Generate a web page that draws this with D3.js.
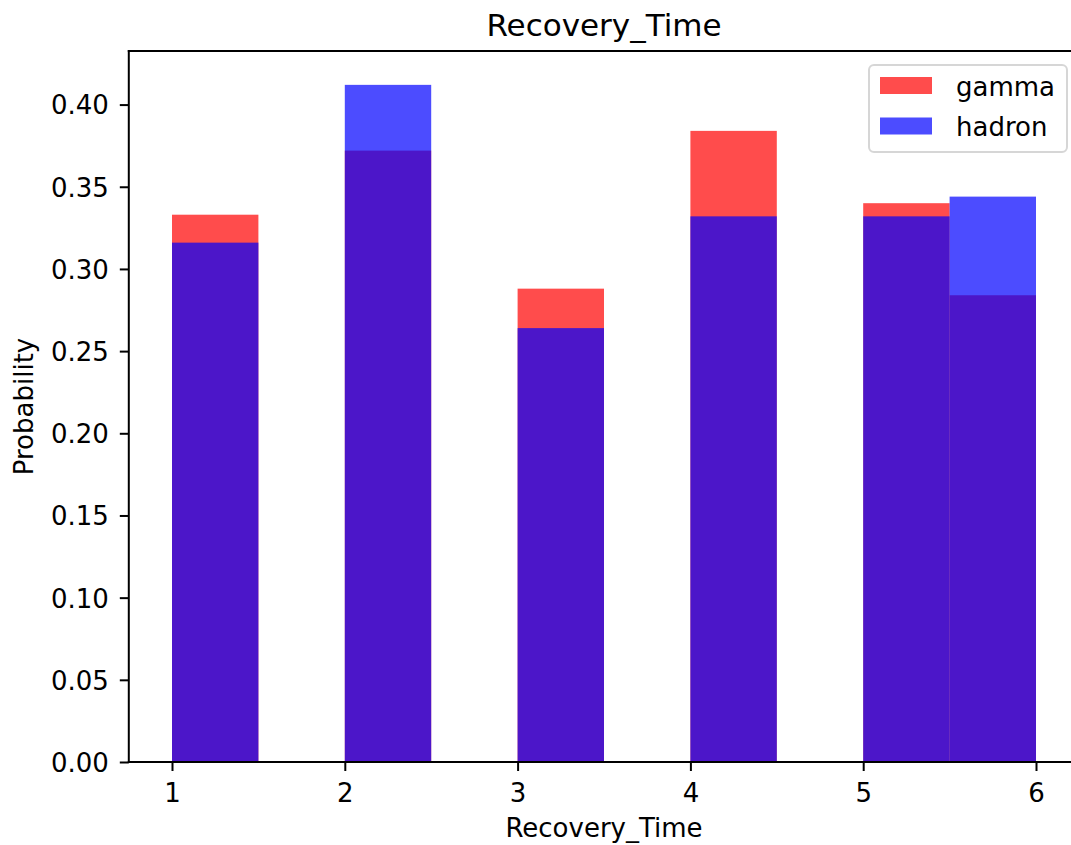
<!DOCTYPE html>
<html>
<head>
<meta charset="utf-8">
<script src="https://cdn.jsdelivr.net/npm/d3@7"></script>
<style>
  html, body { margin: 0; padding: 0; background: #fff; }
  svg { display: block; font-family: "DejaVu Sans", sans-serif; }
</style>
</head>
<body>
<svg id="chart" width="1071" height="845"></svg>
<script>
// Histogram bin edges (10 bins of width 0.5 from 1 to 6)
const binEdges = [1, 1.5, 2, 2.5, 3, 3.5, 4, 4.5, 5, 5.5, 6];
// Normalised bin heights for each class
const gammaDensity  = [0.333, 0, 0.372, 0, 0.288, 0, 0.384, 0, 0.340, 0.284];
const hadronDensity = [0.316, 0, 0.412, 0, 0.264, 0, 0.332, 0, 0.332, 0.344];
const seriesNames = ["gamma", "hadron"];
const seriesColors = ["red", "blue"];
const xTicks = [1, 2, 3, 4, 5, 6];
const yTicks = [0, 0.05, 0.10, 0.15, 0.20, 0.25, 0.30, 0.35, 0.40];
const chartTitle = "Recovery_Time";
const xLabel = "Recovery_Time";
const yLabel = "Probability";

const svg = d3.select("#chart");
const plot = { left: 128.8, right: 1079.2, top: 51, bottom: 762 };

const x = d3.scaleLinear().domain([0.75, 6.25]).range([plot.left, plot.right]);
const yMax = d3.max([...gammaDensity, ...hadronDensity]) * 1.05;
const y = d3.scaleLinear().domain([0, yMax]).range([plot.bottom, plot.top]);

const fontPx = 26;

// Bars: gamma drawn first, hadron over it, both semi-transparent
const series = [gammaDensity, hadronDensity];
series.forEach((vals, si) => {
  svg.append("g")
    .selectAll("rect")
    .data(vals.map((v, i) => ({ x0: binEdges[i], x1: binEdges[i + 1], v })))
    .join("rect")
    .attr("x", d => x(d.x0))
    .attr("width", d => x(d.x1) - x(d.x0))
    .attr("y", d => y(d.v))
    .attr("height", d => y(0) - y(d.v))
    .attr("fill", seriesColors[si])
    .attr("fill-opacity", 0.7);
});

// Axes
const tickLen = 9;
const xAxis = d3.axisBottom(x).tickValues(xTicks).tickFormat(d3.format("d"))
  .tickSizeInner(tickLen).tickSizeOuter(0).tickPadding(9);
const gx = svg.append("g").attr("transform", `translate(0,${plot.bottom})`).call(xAxis);
gx.select(".domain").remove();
gx.selectAll(".tick line").attr("stroke", "#000").attr("stroke-width", 2);
gx.selectAll(".tick text").attr("font-size", fontPx).attr("fill", "#000")
  .attr("font-family", "DejaVu Sans").attr("dy", null).attr("y", 40);

const yAxis = d3.axisLeft(y).tickValues(yTicks).tickFormat(d3.format(".2f"))
  .tickSizeInner(tickLen).tickSizeOuter(0).tickPadding(9);
const gy = svg.append("g").attr("transform", `translate(${plot.left},0)`).call(yAxis);
gy.select(".domain").remove();
gy.selectAll(".tick line").attr("stroke", "#000").attr("stroke-width", 2);
gy.selectAll(".tick text").attr("font-size", fontPx).attr("fill", "#000")
  .attr("font-family", "DejaVu Sans").attr("dy", "0.36em").attr("x", -20);

// Spines
const spine = svg.append("g").attr("stroke", "#000").attr("stroke-width", 2)
  .attr("fill", "none").attr("stroke-linecap", "square");
spine.append("line").attr("x1", plot.left).attr("x2", plot.left).attr("y1", plot.top).attr("y2", plot.bottom);
spine.append("line").attr("x1", plot.left).attr("x2", plot.right).attr("y1", plot.bottom).attr("y2", plot.bottom);
spine.append("line").attr("x1", plot.left).attr("x2", plot.right).attr("y1", plot.top).attr("y2", plot.top);
spine.append("line").attr("x1", plot.right).attr("x2", plot.right).attr("y1", plot.top).attr("y2", plot.bottom);

// Title and axis labels
svg.append("text").attr("x", (plot.left + plot.right) / 2).attr("y", 36)
  .attr("text-anchor", "middle").attr("font-size", 31).attr("fill", "#000")
  .text(chartTitle);
svg.append("text").attr("x", (plot.left + plot.right) / 2).attr("y", 837)
  .attr("text-anchor", "middle").attr("font-size", fontPx).attr("fill", "#000")
  .text(xLabel);
svg.append("text").attr("transform", `translate(33,${(plot.top + plot.bottom) / 2}) rotate(-90)`)
  .attr("text-anchor", "middle").attr("font-size", fontPx).attr("fill", "#000")
  .text(yLabel);

// Legend
const legend = svg.append("g");
legend.append("rect").attr("x", 869).attr("y", 65).attr("width", 198).attr("height", 87)
  .attr("rx", 5).attr("fill", "#fff").attr("fill-opacity", 0.8)
  .attr("stroke", "#d6d6d6").attr("stroke-width", 2);
seriesNames.forEach((name, i) => {
  const cy = 85.5 + i * 40.5;
  legend.append("rect").attr("x", 880).attr("y", cy - 8.5).attr("width", 52).attr("height", 17)
    .attr("fill", seriesColors[i]).attr("fill-opacity", 0.7);
  legend.append("text").attr("x", 956).attr("y", cy + 10)
    .attr("font-size", fontPx).attr("fill", "#000").text(name);
});
</script>
</body>
</html>
